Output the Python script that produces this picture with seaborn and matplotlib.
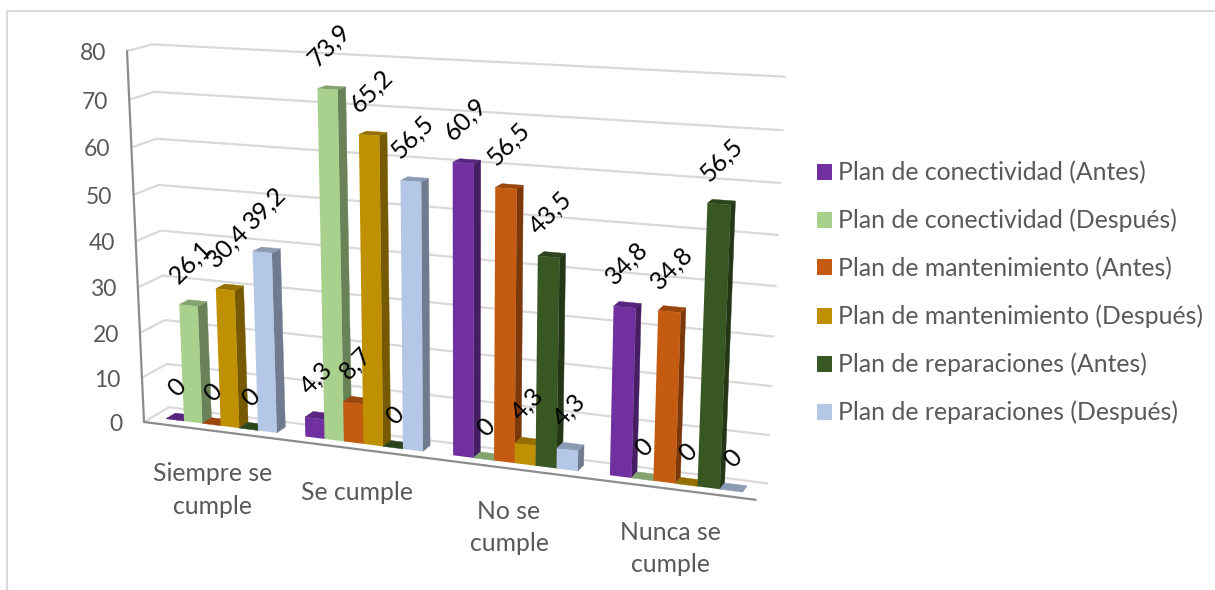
import matplotlib
matplotlib.use("Agg")
import matplotlib.pyplot as plt
import matplotlib.patches as mpatches
from matplotlib.transforms import Transform
import numpy as np
import pandas as pd
import seaborn as sns

# Encuesta: cumplimiento de cada plan, antes y después (porcentajes)
categorias = ["Siempre se\ncumple", "Se cumple", "No se\ncumple", "Nunca se\ncumple"]
series = [
    "Plan de conectividad (Antes)",
    "Plan de conectividad (Después)",
    "Plan de mantenimiento (Antes)",
    "Plan de mantenimiento (Después)",
    "Plan de reparaciones (Antes)",
    "Plan de reparaciones (Después)",
]
conectividad_antes = [0, 4.3, 60.9, 34.8]
conectividad_despues = [26.1, 73.9, 0, 0]
mantenimiento_antes = [0, 8.7, 56.5, 34.8]
mantenimiento_despues = [30.4, 65.2, 4.3, 0]
reparaciones_antes = [0, 0, 43.5, 56.5]
reparaciones_despues = [39.2, 56.5, 4.3, 0]
colores = ["#7030A0", "#A9D18E", "#C55A11", "#BF9000", "#385723", "#B4C7E7"]
marcas_eje = [0, 10, 20, 30, 40, 50, 60, 70, 80]

tabla = [conectividad_antes, conectividad_despues, mantenimiento_antes,
         mantenimiento_despues, reparaciones_antes, reparaciones_despues]
df = pd.DataFrame({
    "categoria": [c for _ in series for c in categorias],
    "serie": [s for s in series for _ in categorias],
    "valor": [v for fila in tabla for v in fila],
})

FUENTE = "Lato"
GRIS_TEXTO = "#595959"

# Plano frontal del gráfico 3D: esquinas en píxeles de la figura
U0, U1, VMAX = -0.5, 3.5, 80.0
ESQUINAS = [(144, 422), (755.6, 499.8), (774, 84), (127, 51)]
FUGA = np.array([1277.0, -250.0])
PROF_BARRA_0, PROF_BARRA_1, PROF_PARED = 0.0074, 0.0158, 0.022


def _homografia():
    src = [(0, 0), (1, 0), (1, 1), (0, 1)]
    A, b = [], []
    for (s, t), (x, y) in zip(src, ESQUINAS):
        A.append([s, t, 1, 0, 0, 0, -s * x, -t * x])
        A.append([0, 0, 0, s, t, 1, -s * y, -t * y])
        b += [x, y]
    return np.append(np.linalg.solve(np.array(A, float), np.array(b, float)), 1).reshape(3, 3)


H = _homografia()


def proyectar(u, v, prof=0.0):
    """Lleva (posición de categoría, valor, profundidad) a píxeles."""
    u, v = np.asarray(u, float), np.asarray(v, float)
    s = (u - U0) / (U1 - U0)
    t = v / VMAX
    w = H[2, 0] * s + H[2, 1] * t + 1
    x = (H[0, 0] * s + H[0, 1] * t + H[0, 2]) / w
    y = (H[1, 0] * s + H[1, 1] * t + H[1, 2]) / w
    return x + prof * (FUGA[0] - x), y + prof * (FUGA[1] - y)


class PlanoPerspectiva(Transform):
    input_dims = 2
    output_dims = 2
    is_separable = False

    def __init__(self, prof):
        super().__init__()
        self.prof = prof

    def transform_non_affine(self, values):
        values = np.asarray(values, float)
        x, y = proyectar(values[:, 0], values[:, 1], self.prof)
        return np.column_stack([x, y])


def oscurecer(color, f):
    r, g, b = matplotlib.colors.to_rgb(color)
    return (r * f, g * f, b * f)


sns.set_theme(style="white")
fig = plt.figure(figsize=(12.15, 5.9), dpi=100, facecolor="white")
ax = fig.add_axes([0, 0, 1, 1])

sns.barplot(data=df, x="categoria", y="valor", hue="serie", order=categorias,
            hue_order=series, palette=colores, saturation=1, width=0.8, gap=0,
            errorbar=None, legend=False, ax=ax, linewidth=0)

plano_barras = PlanoPerspectiva(PROF_BARRA_0) + ax.transData

# Caras de cada barra; se pintan de izquierda a derecha
for k, (contenedor, color) in enumerate(zip(ax.containers, colores)):
    for i, barra in enumerate(contenedor):
        u0 = barra.get_x()
        u1 = u0 + barra.get_width()
        h = barra.get_height()
        z = 10 + i * 10 + k
        barra.set_transform(plano_barras)
        barra.set_clip_on(False)
        barra.set_zorder(z + 0.2)
        lado = [(u1, 0, PROF_BARRA_0), (u1, 0, PROF_BARRA_1), (u1, h, PROF_BARRA_1), (u1, h, PROF_BARRA_0)]
        tapa = [(u0, h, PROF_BARRA_0), (u1, h, PROF_BARRA_0), (u1, h, PROF_BARRA_1), (u0, h, PROF_BARRA_1)]
        for cara, f in ((lado, 0.62), (tapa, 0.78)):
            px = [proyectar(*p) for p in cara]
            ax.fill([p[0] for p in px], [p[1] for p in px], color=oscurecer(color, f),
                    lw=0.3, zorder=z, clip_on=False)
        # Etiqueta de valor girada sobre la barra
        texto = f"{h:g}".replace(".", ",")
        cx, cy = proyectar((u0 + u1) / 2, h, PROF_BARRA_0)
        ax.text(cx + 2, cy - (28 + 4 * len(texto)), texto, rotation=45, rotation_mode="anchor",
                ha="center", va="center", fontsize=18, color="black", family=FUENTE, zorder=100)

# Cuadrícula: tramo lateral y pared del fondo
for v in marcas_eje:
    a = proyectar(U0, v, 0)
    b = proyectar(U0, v, PROF_PARED)
    c = proyectar(U1, v, PROF_PARED)
    ax.plot([a[0], b[0], c[0]], [a[1], b[1], c[1]], color="#D9D9D9", lw=1.6, zorder=1,
            solid_joinstyle="round")
    ax.text(a[0] - 21, a[1] + 2.5, str(v), ha="right", va="center", fontsize=16.5,
            color=GRIS_TEXTO, family=FUENTE)

# Ejes principales
p0, p1, p2 = proyectar(U0, VMAX), proyectar(U0, 0), proyectar(U1, 0)
ax.plot([p0[0], p1[0], p2[0]], [p0[1], p1[1], p2[1]], color="#8C8C8C", lw=1.6, zorder=2)

# Rótulos de categoría
for i, nombre in enumerate(categorias):
    x, y = proyectar(i, 0)
    ax.text(x, y + 31.5, nombre, ha="center", va="top", fontsize=17.8, linespacing=1.5,
            color=GRIS_TEXTO, family=FUENTE)

# Marco exterior
ax.plot([6.5, 6.5, 1215], [590, 10.5, 10.5], color="#D9D9D9", lw=1.5, zorder=0, clip_on=False)

manejadores = [mpatches.Patch(color=c, lw=0) for c in colores]
px_fuente = 17.8 * 100 / 72
ax.legend(manejadores, series, loc="upper left", bbox_to_anchor=(817, 161),
          bbox_transform=ax.transData, frameon=False, borderpad=0, borderaxespad=0,
          prop={"family": FUENTE, "size": 17.8}, labelcolor=GRIS_TEXTO,
          handlelength=15.3 / px_fuente, handleheight=15.3 / px_fuente,
          handletextpad=6 / px_fuente, labelspacing=24.5 / px_fuente)

ax.set_xlim(0, 1215)
ax.set_ylim(590, 0)
ax.axis("off")
fig.savefig("out.png", dpi=100, facecolor="white")
